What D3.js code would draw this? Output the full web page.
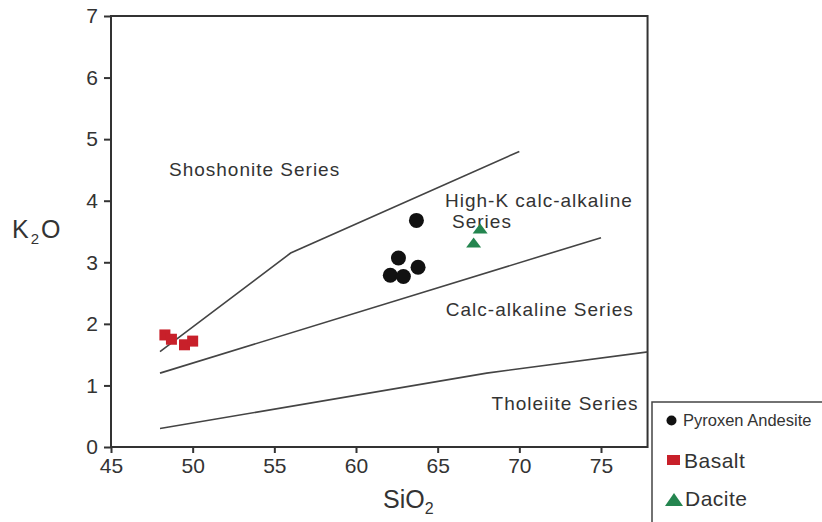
<!DOCTYPE html>
<html>
<head>
<meta charset="utf-8">
<script src="https://cdn.jsdelivr.net/npm/d3@7"></script>
<style>
  body { margin: 0; background: #fff; }
  text { font-family: "Liberation Sans", Arial, sans-serif; fill: #333; }
</style>
</head>
<body>
<div id="view"></div>
<script>
// data
const xTicks = [45, 50, 55, 60, 65, 70, 75];
const yTicks = [0, 1, 2, 3, 4, 5, 6, 7];

const shoshoniteLine = [[48, 1.55], [56, 3.15], [70, 4.8]];
const highKLine = [[48, 1.2], [75, 3.4]];
const tholeiiteLine = [[48, 0.3], [68, 1.2], [78, 1.55]];

const andesite = [[63.7, 3.68], [62.6, 3.07], [62.1, 2.79], [62.9, 2.77], [63.8, 2.92]];
const basalt = [[48.3, 1.82], [48.7, 1.75], [49.5, 1.66], [50.0, 1.72]];
const dacite = [[67.6, 3.55], [67.2, 3.32]];

const fieldLabels = [
    {text: "Shoshonite Series", x: 48.55, y: 4.4},
    {text: "High-K calc-alkaline", x: 65.45, y: 3.9},
    {text: "Series", x: 65.88, y: 3.56},
    {text: "Calc-alkaline Series", x: 65.5, y: 2.13},
    {text: "Tholeiite Series", x: 68.3, y: 0.6}
];

const legendItems = ["Pyroxen Andesite", "Basalt", "Dacite"];

// layout
const svg = d3.select("#view")
    .append("svg")
        .attr("width", 822)
        .attr("height", 522);

const x = d3.scaleLinear().domain([45, 78]).range([111, 650]);
const y = d3.scaleLinear().domain([0, 7]).range([447, 16]);
const fontFam = "'Liberation Sans', Arial, sans-serif";

// plot frame
svg.append("rect")
    .attr("x", x(45)).attr("y", y(7))
    .attr("width", x(77.85) - x(45)).attr("height", y(0) - y(7))
    .attr("fill", "none")
    .attr("stroke", "#333")
    .attr("stroke-width", 2);

// X axis
const xAxis = svg.append("g")
    .attr("transform", `translate(0, ${y(0)})`)
    .call(d3.axisBottom(x).tickValues(xTicks).tickSize(6).tickPadding(5));
xAxis.select(".domain").remove();
xAxis.selectAll(".tick line").attr("stroke", "#333").attr("stroke-width", 2);
xAxis.selectAll(".tick text").attr("font-size", 21).attr("fill", "#333")
    .style("font-family", fontFam);

// Y axis
const yAxis = svg.append("g")
    .attr("transform", `translate(${x(45)}, 0)`)
    .call(d3.axisLeft(y).tickValues(yTicks).tickFormat(d3.format("d")).tickSize(7).tickPadding(6));
yAxis.select(".domain").remove();
yAxis.selectAll(".tick line").attr("stroke", "#333").attr("stroke-width", 2);
yAxis.selectAll(".tick text").attr("font-size", 21).attr("fill", "#333")
    .style("font-family", fontFam);

// axis titles
const xt = svg.append("text").attr("x", 383).attr("y", 508).attr("font-size", 25);
xt.append("tspan").text("SiO");
xt.append("tspan").text("2").attr("font-size", 16).attr("dy", 6);

const yt = svg.append("text").attr("x", 12).attr("y", 238).attr("font-size", 25);
yt.append("tspan").text("K");
yt.append("tspan").text("2").attr("font-size", 15).attr("dx", 2).attr("dy", 6);
yt.append("tspan").text("O").attr("font-size", 25).attr("dx", 2).attr("dy", -6);

// boundary lines
svg.append("clipPath").attr("id", "plotClip")
    .append("rect")
    .attr("x", x(45)).attr("y", y(7))
    .attr("width", x(77.85) - x(45)).attr("height", y(0) - y(7));

const line = d3.line().x(d => x(d[0])).y(d => y(d[1]));
[shoshoniteLine, highKLine, tholeiiteLine].forEach(l => {
    svg.append("path")
        .datum(l)
        .attr("clip-path", "url(#plotClip)")
        .attr("fill", "none")
        .attr("stroke", "#444")
        .attr("stroke-width", 1.6)
        .attr("d", line);
});

// field labels
svg.selectAll(".field")
    .data(fieldLabels)
    .enter().append("text")
        .attr("class", "field")
        .attr("x", d => x(d.x))
        .attr("y", d => y(d.y))
        .attr("font-size", 19)
        .attr("letter-spacing", 1)
        .attr("fill", "#3a3a3a")
        .text(d => d.text);

// data points
svg.selectAll(".andesite")
    .data(andesite)
    .enter().append("circle")
        .attr("cx", d => x(d[0]))
        .attr("cy", d => y(d[1]))
        .attr("r", 7.5)
        .attr("fill", "#111");

svg.selectAll(".basalt")
    .data(basalt)
    .enter().append("rect")
        .attr("x", d => x(d[0]) - 5.5)
        .attr("y", d => y(d[1]) - 5.5)
        .attr("width", 11)
        .attr("height", 11)
        .attr("fill", "#c8202a");

// flat triangle, wider than tall
const triPath = (w, h) => `M${-w / 2},${h / 2} L${w / 2},${h / 2} L0,${-h / 2} Z`;
svg.selectAll(".dacite")
    .data(dacite)
    .enter().append("path")
        .attr("transform", d => `translate(${x(d[0])}, ${y(d[1])})`)
        .attr("d", triPath(15, 10))
        .attr("fill", "#24854f");

// legend
const lg = svg.append("g");
lg.append("path")
    .attr("d", "M652,522 V402 H822")
    .attr("fill", "none")
    .attr("stroke", "#444")
    .attr("stroke-width", 1.5);

const legendY = [426, 468, 506];
const legendX = [683, 684, 685];
const legendSize = [16.5, 21, 21];
const legendSpacing = [0, 0.5, 0.5];
lg.append("circle").attr("cx", 671.5).attr("cy", 420.5).attr("r", 5).attr("fill", "#111");
lg.append("rect").attr("x", 667).attr("y", 455).attr("width", 13).attr("height", 10).attr("fill", "#c8202a");
lg.append("path").attr("transform", "translate(674, 499.5)")
    .attr("d", triPath(18, 13)).attr("fill", "#24854f");

legendItems.forEach((t, i) => {
    lg.append("text")
        .attr("x", legendX[i])
        .attr("y", legendY[i])
        .attr("font-size", legendSize[i])
        .attr("letter-spacing", legendSpacing[i])
        .attr("fill", "#222")
        .text(t);
});
</script>
</body>
</html>
